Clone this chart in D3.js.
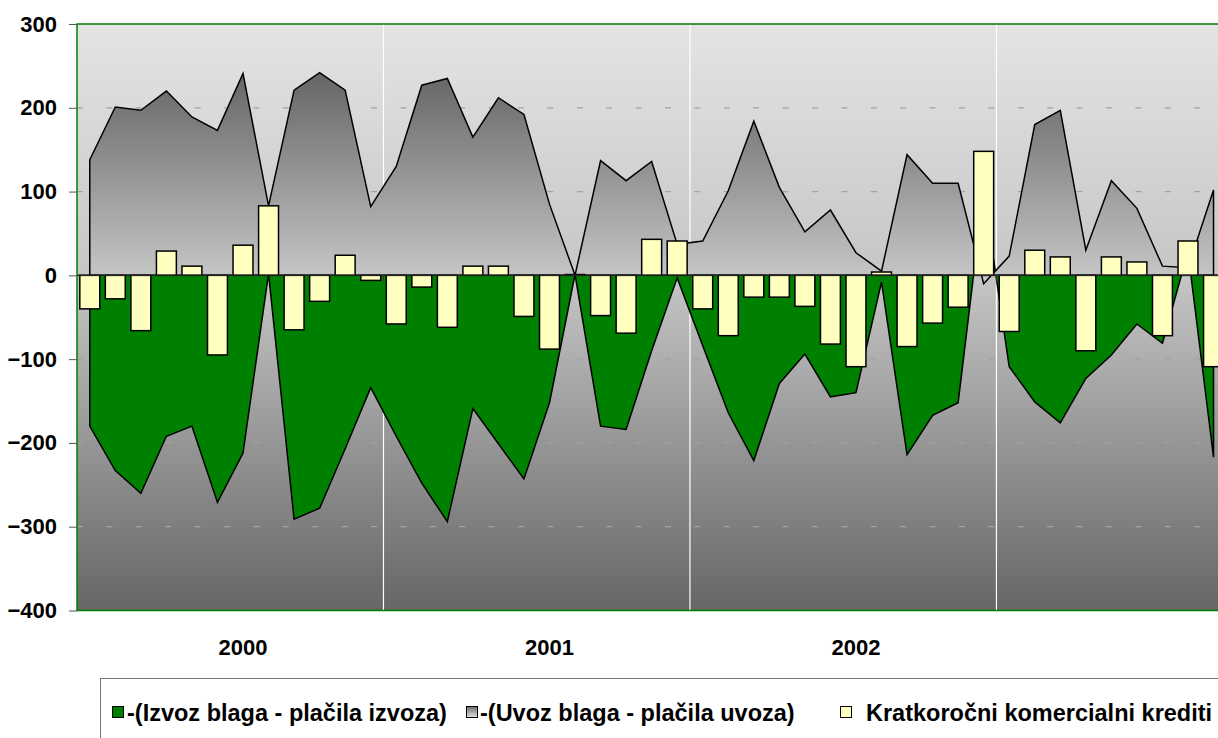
<!DOCTYPE html>
<html>
<head>
<meta charset="utf-8">
<script src="https://cdn.jsdelivr.net/npm/d3@7"></script>
<style>
body { margin: 0; background: #fff; overflow: hidden; }
svg { display: block; font-family: "Liberation Sans", Arial, sans-serif; font-weight: bold; }
</style>
</head>
<body>
<svg id="chart" width="1218" height="738"></svg>
<script>
// months, Jan 2000 - Sep 2003
const months = [
  "2000-01","2000-02","2000-03","2000-04","2000-05","2000-06","2000-07","2000-08","2000-09","2000-10","2000-11","2000-12",
  "2001-01","2001-02","2001-03","2001-04","2001-05","2001-06","2001-07","2001-08","2001-09","2001-10","2001-11","2001-12",
  "2002-01","2002-02","2002-03","2002-04","2002-05","2002-06","2002-07","2002-08","2002-09","2002-10","2002-11","2002-12",
  "2003-01","2003-02","2003-03","2003-04","2003-05","2003-06","2003-07","2003-08","2003-09"
];
const izvoz = [-180, -233, -260, -192, -180, -271, -212, 2, -291, -278, -207, -134,
  -192, -248, -294, -159, -201, -243, -152, 1, -180, -184, -90, -3,
  -84, -164, -221, -129, -94, -145, -140, -8, -214, -167, -152, 100,
  -109, -151, -176, -123, -95, -58, -81, 28, -217];
const uvoz = [138, 201, 197, 220, 189, 173, 241, 83, 221, 242, 221, 82,
  130, 227, 235, 165, 212, 192, 85, 0, 137, 113, 136, 37,
  41, 101, 184, 105, 52, 78, 27, 5, 144, 110, 110, -10,
  23, 180, 197, 30, 113, 80, 11, 9, 102];
const krediti = [-40, -28, -66, 29, 11, -95, 36, 83, -65, -31, 24, -6,
  -58, -14, -62, 11, 11, -49, -88, 1, -48, -69, 43, 41,
  -40, -72, -26, -26, -37, -82, -109, 4, -85, -57, -38, 148,
  -67, 30, 22, -90, 22, 16, -72, 41, -109];
const yearLabels = ["2000", "2001", "2002"];
const yearLabelMonths = ["2000-07", "2001-07", "2002-07"];
const yearStarts = ["2001-01", "2002-01", "2003-01"];
const yTicks = [-400, -300, -200, -100, 0, 100, 200, 300];
const seriesNames = ["-(Izvoz blaga - plačila izvoza)", "-(Uvoz blaga - plačila uvoza)", "Kratkoročni komercialni krediti"];

const plotLeft = 77, plotTop = 24, plotBottom = 610.5, step = 25.54;
const green = "#008000", yellow = "#ffffc0";

const svg = d3.select("#chart");

const x = d3.scaleBand()
    .domain(months)
    .range([plotLeft, plotLeft + months.length * step])
    .paddingInner(0.22)
    .paddingOuter(0.11);
const y = d3.scaleLinear().domain([-400, 300]).range([plotBottom, plotTop]);
const plotRight = x.range()[1];

function cx(m) { return x(m) + x.bandwidth() / 2; }

const defs = svg.append("defs");
function gradient(id, stops, units, y1, y2) {
  const g = defs.append("linearGradient").attr("id", id)
      .attr("x1", 0).attr("x2", 0);
  if (units) {
    g.attr("gradientUnits", "userSpaceOnUse").attr("y1", y1).attr("y2", y2);
  } else {
    g.attr("y1", 0).attr("y2", 1);
  }
  stops.forEach(function (s) {
    g.append("stop").attr("offset", s[0]).attr("stop-color", s[1]);
  });
}
gradient("bg", [[0, "#e4e4e4"], [(y(0) - plotTop) / (plotBottom - plotTop), "#c6c6c6"], [1, "#666666"]], true, plotTop, plotBottom);
gradient("grayFill", [[0, "#656565"], [1, "#c9c9c9"]], true, y(242), y(-10));
gradient("graySwatch", [[0, "#6a6a6a"], [1, "#e2e2e2"]], false);

// plot background
svg.append("rect")
    .attr("x", plotLeft).attr("y", plotTop)
    .attr("width", plotRight - plotLeft).attr("height", plotBottom - plotTop)
    .attr("fill", "url(#bg)");

// horizontal dashed gridlines
svg.append("g")
  .selectAll("line")
  .data(yTicks.filter(function (d) { return d !== 0 && d !== 300 && d !== -400; }))
  .join("line")
    .attr("x1", plotLeft).attr("x2", plotRight)
    .attr("y1", function (d) { return y(d); })
    .attr("y2", function (d) { return y(d); })
    .attr("stroke", "#a2a2a2")
    .attr("stroke-width", 1.2)
    .attr("stroke-dasharray", "6,23.4");

// vertical white year gridlines
const gap = x.step() * x.paddingInner() / 2;
svg.append("g")
  .selectAll("line")
  .data(yearStarts)
  .join("line")
    .attr("x1", function (d) { return x(d) - gap; })
    .attr("x2", function (d) { return x(d) - gap; })
    .attr("y1", plotTop).attr("y2", plotBottom)
    .attr("stroke", "#fff")
    .attr("stroke-width", 1.2);

// areas
function area(values) {
  return d3.area()
      .x(function (d, i) { return cx(months[i]); })
      .y0(y(0))
      .y1(function (d) { return y(d); })(values);
}
svg.append("path")
    .attr("d", area(izvoz))
    .attr("fill", green)
    .attr("stroke", "#000")
    .attr("stroke-width", 1.5);
svg.append("path")
    .attr("d", area(uvoz))
    .attr("fill", "url(#grayFill)")
    .attr("stroke", "#000")
    .attr("stroke-width", 1.5);

// bars
svg.append("g")
  .selectAll("rect")
  .data(krediti)
  .join("rect")
    .attr("x", function (d, i) { return x(months[i]); })
    .attr("y", function (d) { return y(Math.max(0, d)); })
    .attr("width", x.bandwidth())
    .attr("height", function (d) { return Math.abs(y(d) - y(0)); })
    .attr("fill", yellow)
    .attr("stroke", "#000")
    .attr("stroke-width", 1.5);

// zero line and category ticks
svg.append("line")
    .attr("x1", plotLeft).attr("x2", plotRight)
    .attr("y1", y(0)).attr("y2", y(0))
    .attr("stroke", "#222").attr("stroke-width", 1.5);
svg.append("g")
  .selectAll("line")
  .data(yearStarts)
  .join("line")
    .attr("x1", function (d) { return x(d) - gap; })
    .attr("x2", function (d) { return x(d) - gap; })
    .attr("y1", y(0)).attr("y2", y(0) + 6)
    .attr("stroke", "#333");

// plot border (green)
svg.append("path")
    .attr("d", "M" + plotRight + "," + plotTop + "H" + plotLeft + "V" + plotBottom + "H" + plotRight)
    .attr("fill", "none")
    .attr("stroke", green)
    .attr("stroke-width", 1.5);

// y axis
const yAxis = svg.append("g")
    .attr("transform", "translate(" + plotLeft + ",0)")
    .call(d3.axisLeft(y).tickValues(yTicks).tickSize(8).tickPadding(12));
yAxis.select(".domain").remove();
yAxis.selectAll("line").attr("stroke", "#555");
yAxis.selectAll("text")
    .attr("fill", "#000")
    .style("font-size", "22px")
    .style("font-family", "'Liberation Sans', Arial, sans-serif")
    .style("font-weight", "bold");

// year labels
svg.append("g")
  .selectAll("text")
  .data(yearLabelMonths)
  .join("text")
    .attr("x", function (d) { return cx(d); })
    .attr("y", 655)
    .attr("text-anchor", "middle")
    .style("font-size", "22px")
    .text(function (d, i) { return yearLabels[i]; });

// legend
const legend = svg.append("g");
legend.append("rect")
    .attr("x", 100.5).attr("y", 678.5)
    .attr("width", 1200).attr("height", 120)
    .attr("fill", "#fff")
    .attr("stroke", "#777");
const swatches = [green, "url(#graySwatch)", yellow];
const swatchX = [112, 466, 840];
const textX = [127, 480, 866];
legend.selectAll(".sw")
  .data(seriesNames)
  .join("rect")
    .attr("class", "sw")
    .attr("x", function (d, i) { return swatchX[i] + 0.5; })
    .attr("y", 706.5)
    .attr("width", 11).attr("height", 11)
    .attr("fill", function (d, i) { return swatches[i]; })
    .attr("stroke", "#000");
legend.selectAll(".lt")
  .data(seriesNames)
  .join("text")
    .attr("class", "lt")
    .attr("x", function (d, i) { return textX[i]; })
    .attr("y", 720.5)
    .style("font-size", "23.5px")
    .text(function (d) { return d; });
</script>
</body>
</html>
